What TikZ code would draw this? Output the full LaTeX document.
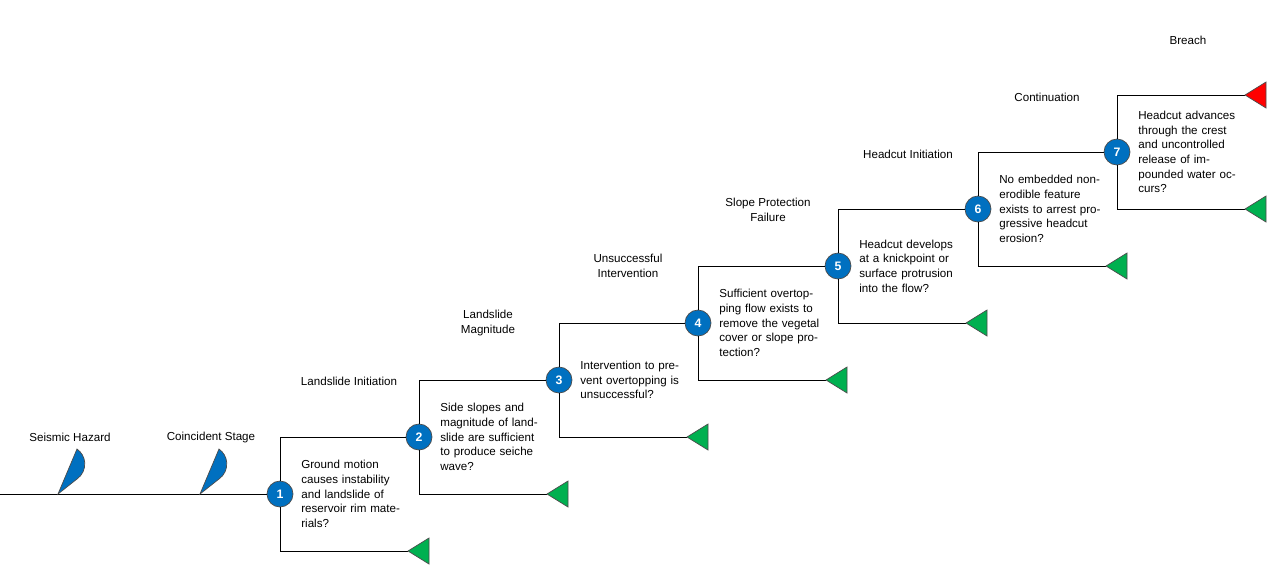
\documentclass[tikz,border=0pt]{standalone}
\usepackage{fontspec}
\setmainfont{Liberation Sans}
\definecolor{evblue}{RGB}{0,112,192}
\definecolor{evgreen}{RGB}{0,176,80}
\definecolor{evred}{RGB}{255,0,0}
\newcommand{\pxu}{0.2mm}
\tikzset{
  event/.style={circle,draw=black!70,fill=evblue,text=white,inner sep=0pt,minimum size=26*\pxu,font=\fontsize{7}{8}\selectfont\bfseries},
  branch/.style={draw,thin},
  desc/.style={anchor=west,align=left,text width=58pt,inner sep=0pt,font=\fontsize{6.6}{8.3}\selectfont},
  stage/.style={align=center,inner sep=0pt,font=\fontsize{6.6}{8.3}\selectfont}
}
\newcommand{\outtri}[3]{\draw[black!70,fill=#3] (#1,#2) -- (#1+21,#2-13) -- (#1+21,#2+13) -- cycle;}
\newcommand{\haz}[2]{\draw[black!70,fill=evblue] (#1,#2) -- (#1+19,#2-15) arc[start angle=55,end angle=-55,radius=18.3] -- cycle;}
\begin{document}
\begin{tikzpicture}[x=0.2mm,y=-0.2mm]
\useasboundingbox (0,0) rectangle (1280,572);
% initiating line
\coordinate (start) at (0,494);
\node[event] (e1) at (280,494) {1};
\draw[branch] (start) -- (e1);
\haz{58}{494}
\haz{200}{494}
\node[stage] (sh) at (70,437) {Seismic Hazard};
\node[stage] (cs) at (211,437) {Coincident Stage};
% events
\foreach \k/\x/\y in {2/419/437,3/559/380,4/698/323,5/838/266,6/978/209,7/1117/152}
  \node[event] (e\k) at (\x,\y) {\k};
\foreach \k/\n in {1/2,2/3,3/4,4/5,5/6,6/7}
  \draw[branch] (e\k) |- (e\n);
% failure (green) branches
\foreach \k/\x/\y in {1/280/494,2/419/437,3/559/380,4/698/323,5/838/266,6/978/209,7/1117/152}{
  \coordinate (g\k) at (\x+128,\y+57);
  \draw[branch] (e\k) |- (g\k);
  \outtri{\x+128}{\y+57}{evgreen}
}
% breach
\coordinate (br) at (1245,95);
\draw[branch] (e7) |- (br);
\outtri{1245}{95}{evred}
% stage labels
\node[stage] (s1) at (349,381) {Landslide Initiation};
\node[stage] (s2) at (488,323) {Landslide\\Magnitude};
\node[stage] (s3) at (628,266) {Unsuccessful\\Intervention};
\node[stage] (s4) at (768,210) {Slope Protection\\Failure};
\node[stage] (s5) at (908,154) {Headcut Initiation};
\node[stage] (s6) at (1047,97) {Continuation};
\node[stage] (s7) at (1188,40) {Breach};
% descriptions
\node[desc] (d1) at (301,494) {Ground motion causes instability and landslide of reservoir rim materials?};
\node[desc] (d2) at (440,437) {Side slopes and magnitude of landslide are sufficient to produce seiche wave?};
\node[desc] (d3) at (580,380) {Intervention to prevent overtopping is unsuccessful?};
\node[desc] (d4) at (719,323) {Sufficient overtopping flow exists to remove the vegetal cover or slope protection?};
\node[desc] (d5) at (859,266) {Headcut develops at a knickpoint or surface protrusion into the flow?};
\node[desc] (d6) at (999,209) {No embedded non-erodible feature exists to arrest progressive headcut erosion?};
\node[desc] (d7) at (1138,152) {Headcut advances through the crest and uncontrolled release of impounded water occurs?};
\end{tikzpicture}
\end{document}
